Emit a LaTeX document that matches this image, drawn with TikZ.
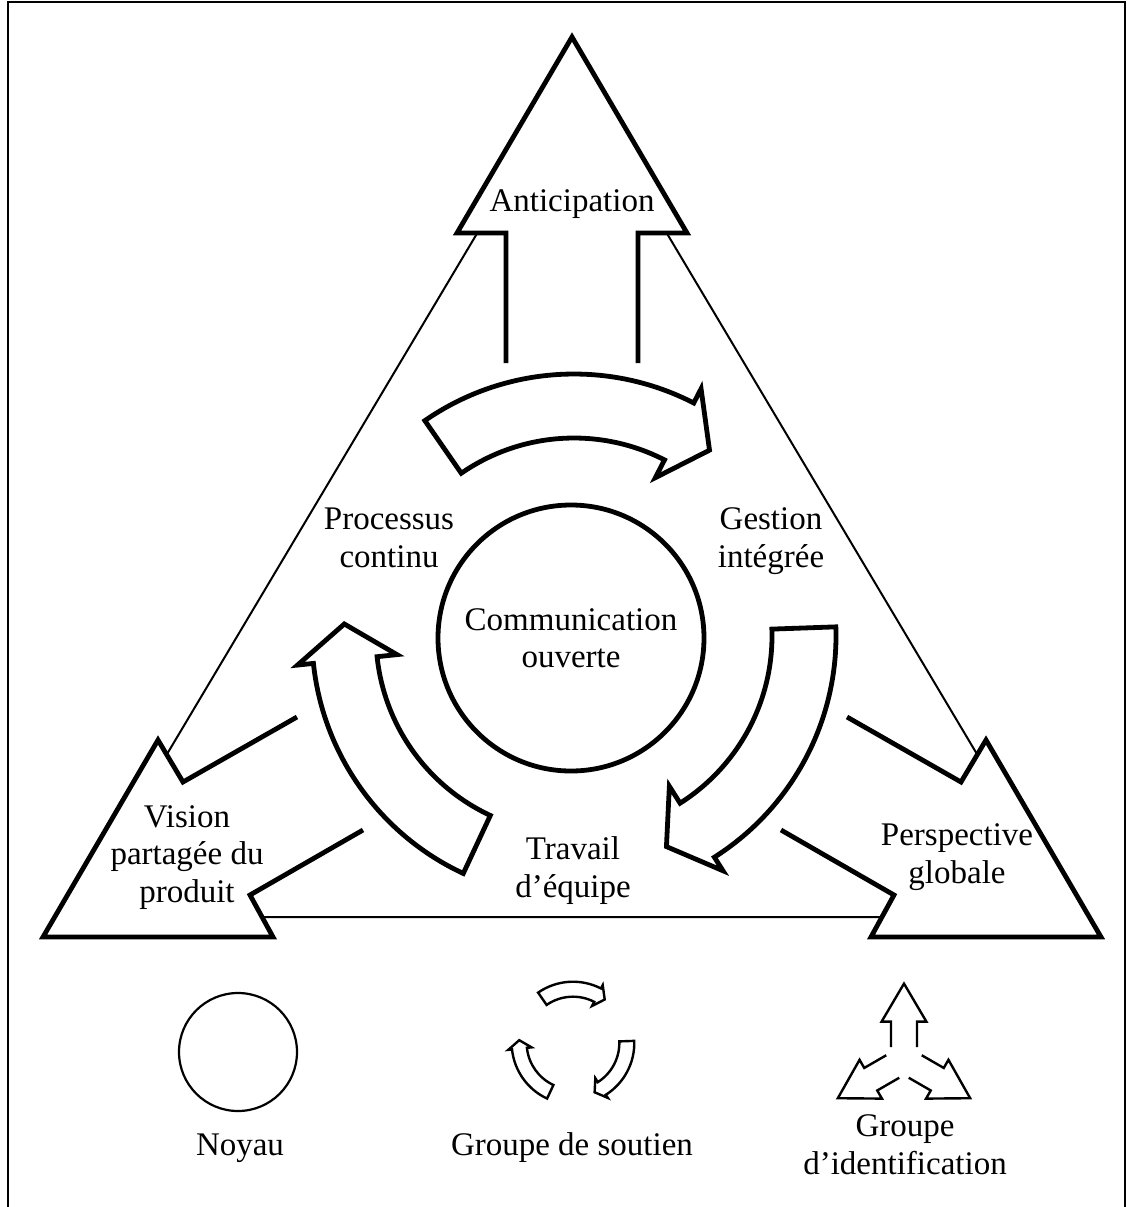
\documentclass[tikz,border=0pt]{standalone}
\usepackage{fontspec}
\setmainfont{Liberation Serif}
\begin{document}
\begin{tikzpicture}[x=0.5pt,y=-0.5pt,
  thickline/.style={line width=2.4pt},
  thinline/.style={line width=1pt},
  txt/.style={font=\fontsize{16.5}{18.7}\selectfont, align=center, anchor=base, inner sep=0pt},
  pics/carrow/.style n args={3}{code={
    \draw[line join=miter] (#1:198) -- (#1:262) arc[start angle=#1, end angle=#2, radius=262]
      -- (#2:278) -- (#3:230) -- (#2:178) -- (#2:198)
      arc[start angle=#2, end angle=#1, radius=198] -- cycle;}},
  pics/sarrow/.style={code={
    \fill[white] (38.4,22.4) -- (76.4,0) -- (38.4,-22.4) -- cycle;
    \draw (13,13) -- (38.4,13) -- (38.4,22.4) -- (76.4,0) -- (38.4,-22.4) -- (38.4,-13) -- (13,-13);}}
]
\useasboundingbox (0,0) rectangle (1127,1207);
% frame
\draw[thinline] (8,1207) -- (8,2) -- (1125,2) -- (1125,1207);
% thin triangle
\draw[thinline] (572,74) -- (1074,917) -- (70,917) -- cycle;
% straight arrows
\fill[white] (457,233) -- (572,37) -- (687,233) -- cycle;
\draw[thickline] (506,363) -- (506,233) -- (457,233) -- (572,37) -- (687,233) -- (638,233) -- (638,363);
\fill[white] (158,740) -- (43,937) -- (273,937) -- cycle;
\draw[thickline] (297,717) -- (183,782) -- (158,740) -- (43,937) -- (273,937) -- (250,895) -- (363,830);
\fill[white] (986,740) -- (1101,937) -- (871,937) -- cycle;
\draw[thickline] (847,717) -- (961,782) -- (986,740) -- (1101,937) -- (871,937) -- (894,895) -- (781,830);
% core circle
\node[circle, draw, thickline, minimum size=133pt, inner sep=0pt, font=\fontsize{16.5}{18.7}\selectfont, align=center] (core) at (571,638) {Communication\\ouverte};
% curved arrows
\begin{scope}[thickline]
\pic at (574,636) {carrow={-124.7}{-62.8}{-53.9}};
\pic at (574,636) {carrow={-2}{57.6}{66.3}};
\pic at (574,636) {carrow={115}{174}{183}};
\end{scope}
% labels
\node[txt] (antic) at (572,211) {Anticipation};
\node[txt] (proc) at (389,567) {Processus\\continu};
\node[txt] (gest) at (771,567) {Gestion\\intégrée};
\node[txt] (vision) at (187,902) {Vision\\partagée du\\produit};
\node[txt] (trav) at (573,897) {Travail\\d’équipe};
\node[txt] (persp) at (957,883) {Perspective\\globale};
% legend
\node[circle, draw, line width=1.1pt, minimum size=59pt, inner sep=0pt] (noyau) at (238,1052) {};
\node[txt] (noyaut) at (240,1155) {Noyau};
\begin{scope}[shift={(573,1043)}, scale=0.234, line width=1.2pt, transform shape]
\pic {carrow={-124.7}{-62.8}{-53.9}};
\pic {carrow={-2}{57.6}{66.3}};
\pic {carrow={115}{174}{183}};
\end{scope}
\node[txt] (soutien) at (572,1155) {Groupe de soutien};
\begin{scope}[shift={(904,1060)}, line width=1.2pt]
\pic[rotate=90] {sarrow};
\pic[rotate=210] {sarrow};
\pic[rotate=-30] {sarrow};
\end{scope}
\node[txt] (ident) at (905,1174) {Groupe\\d’identification};
\end{tikzpicture}
\end{document}
